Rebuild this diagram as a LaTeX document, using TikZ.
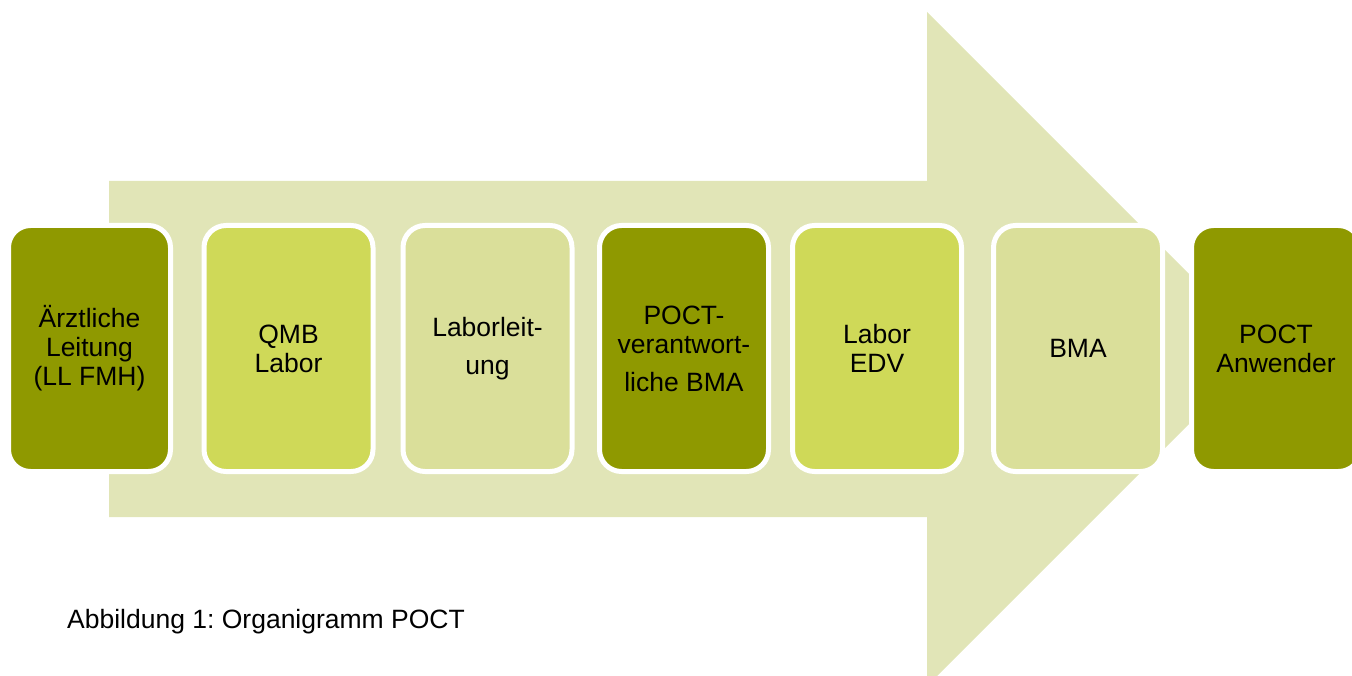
\documentclass[tikz,border=0pt]{standalone}
\usepackage{fontspec}
\setmainfont{Liberation Sans}
\frenchspacing
\definecolor{olive}{RGB}{143,153,0}
\definecolor{lime}{RGB}{207,217,88}
\definecolor{pale}{RGB}{218,223,154}
\definecolor{arrowfill}{RGB}{225,229,183}
\begin{document}
\begin{tikzpicture}[x=1pt,y=-1pt,
  stage/.style={draw=white, line width=5pt, rounded corners=22pt,
    minimum width=169pt, minimum height=246pt, inner sep=0pt,
    align=center, text=black, font=\fontsize{26.5}{29}\selectfont},
  caption/.style={anchor=west, inner sep=0pt, font=\fontsize{26.5}{30}\selectfont}]
\useasboundingbox (0,0) rectangle (1352,676);
% broad background arrow
\fill[arrowfill] (109,181) -- (927,181) -- (927,12) -- (1264,349)
  -- (927,686) -- (927,517) -- (109,517) -- cycle;
% stages of the chain
\node[stage, fill=olive, minimum width=162pt] (s1) at (89.5,348.5) {Ärztliche\\Leitung\\(LL FMH)};
\node[stage, fill=lime]  (s2) at (288.5,348.5) {QMB\\Labor};
\node[stage, fill=pale]  (s3) at (487.5,348.5) {Laborleit-\\[9pt]ung};
\node[stage, fill=olive] (s4) at (684,348.5) {POCT-\\verantwort-\\[9pt]liche BMA};
\node[stage, fill=lime]  (s5) at (877,348.5) {Labor\\EDV};
\node[stage, fill=pale]  (s6) at (1078,348.5) {BMA};
\node[stage, fill=olive] (s7) at (1276,348.5) {POCT\\Anwender};
% figure caption
\node[caption] (cap) at (67,622) {Abbildung 1: Organigramm POCT};
\end{tikzpicture}
\end{document}
